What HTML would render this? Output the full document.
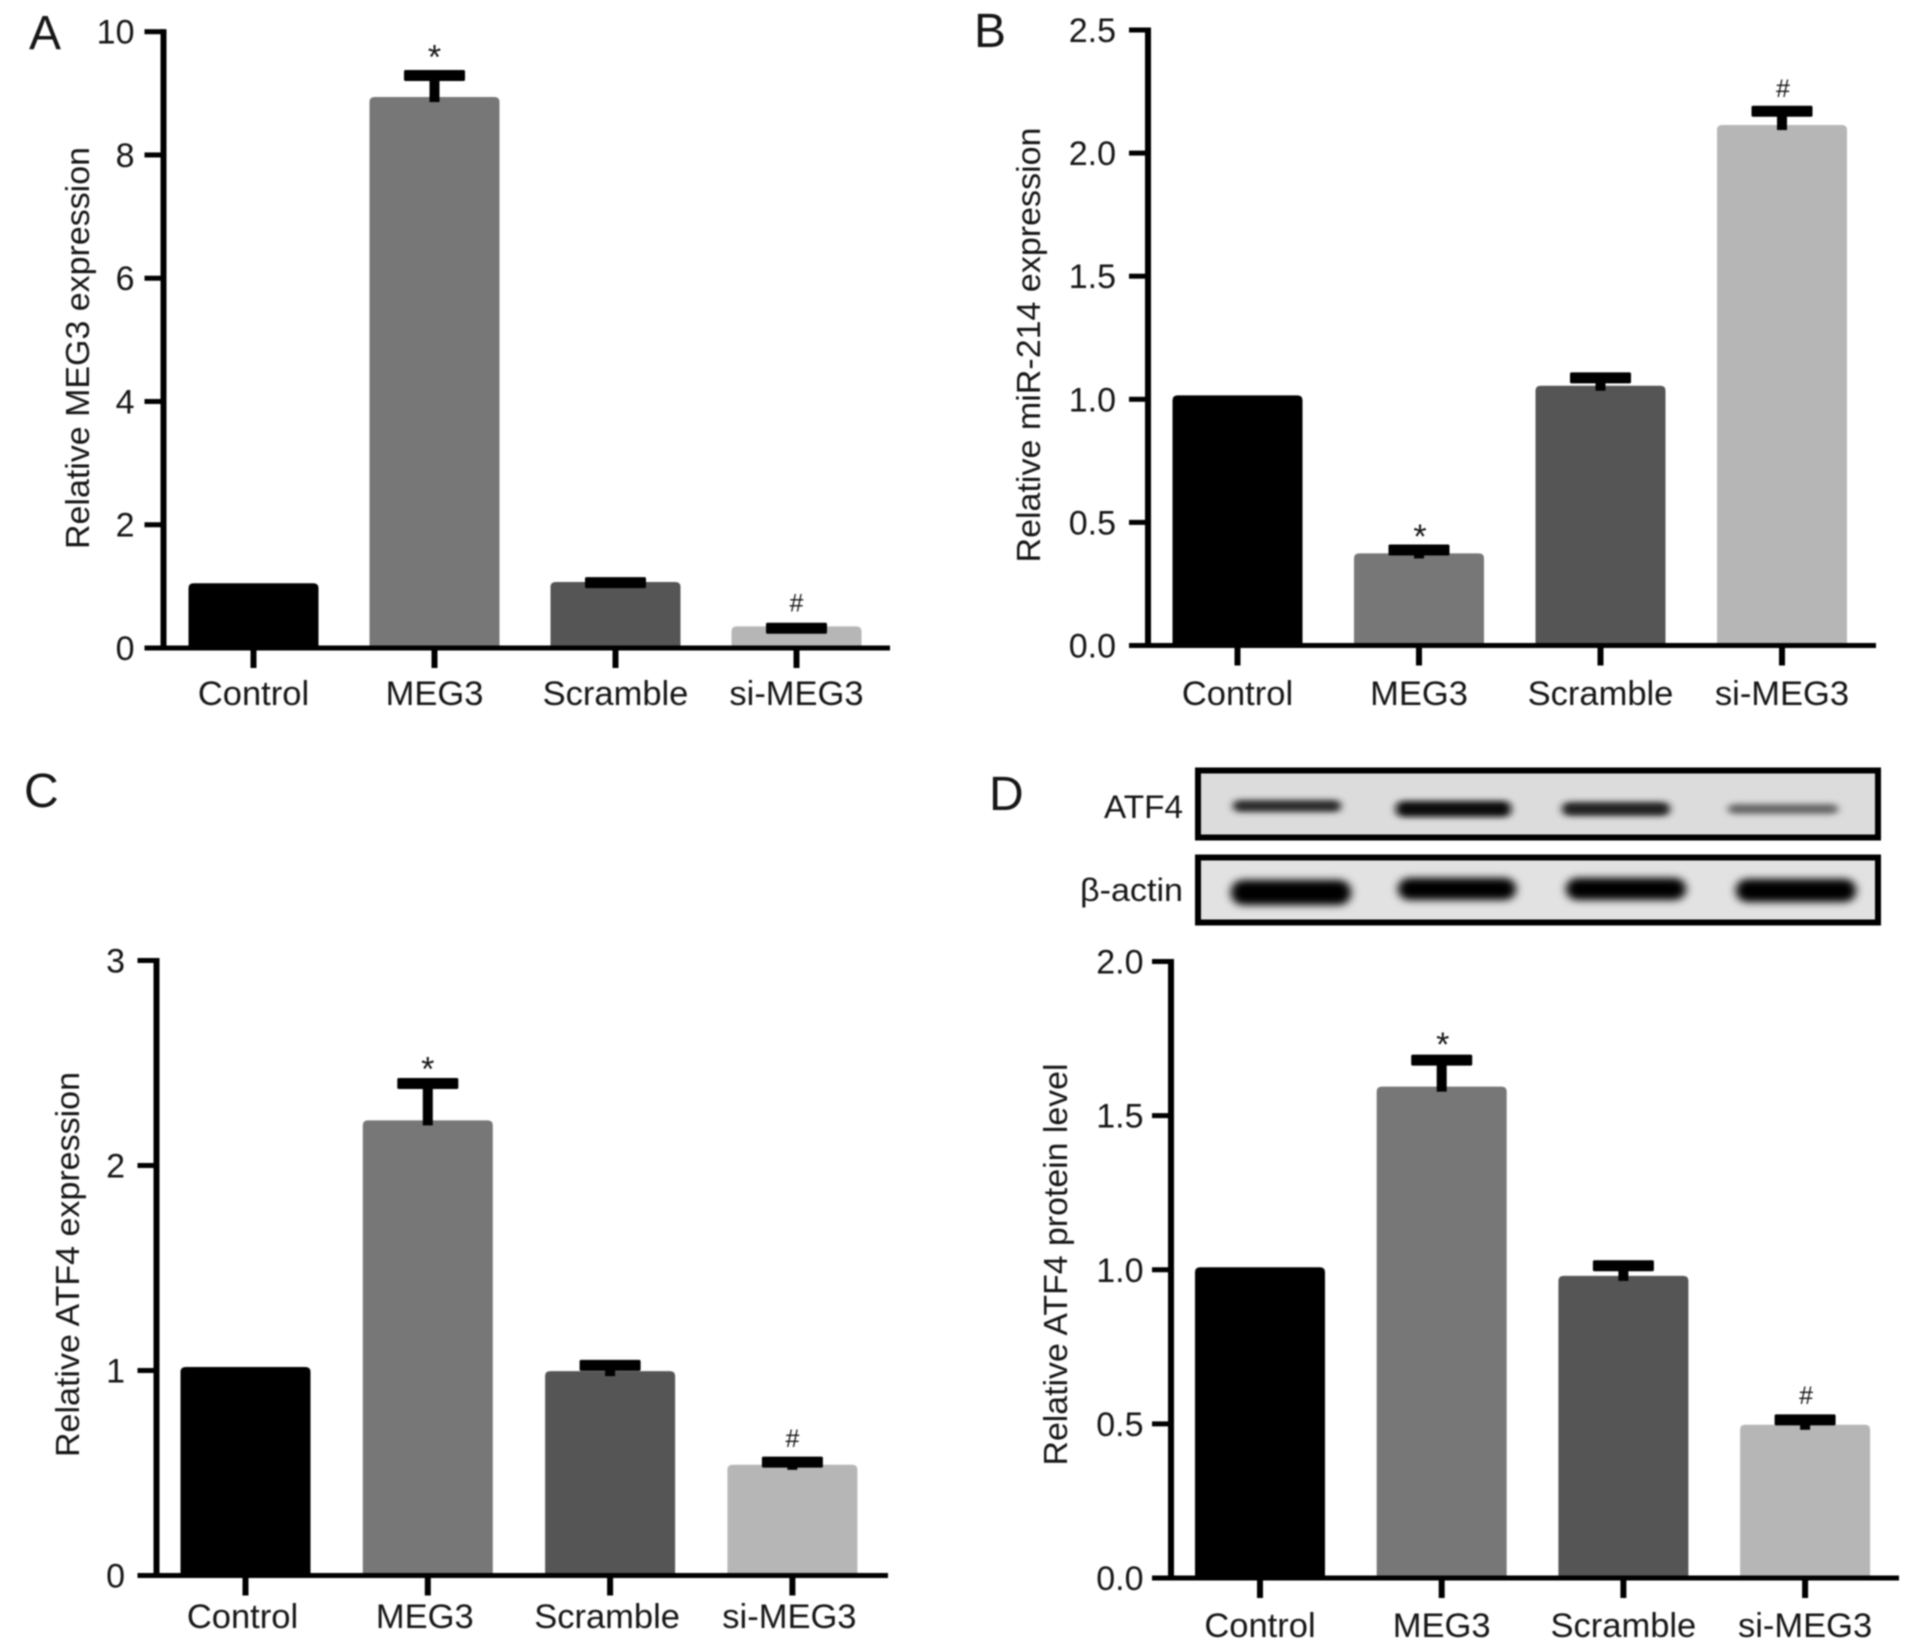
<!DOCTYPE html>
<html lang="en">
<head>
<meta charset="utf-8">
<title>MEG3, miR-214 and ATF4 expression</title>
<style>
html,body{margin:0;padding:0;background:#fff;}
#figure{display:block;width:1913px;height:1650px;filter:blur(0.8px);}
text{font-family:"Liberation Sans",Arial,sans-serif;fill:#161616;}
</style>
</head>
<body>
<svg id="figure" xmlns="http://www.w3.org/2000/svg" width="1913" height="1650" viewBox="0 0 1913 1650">
  <defs>
    <filter id="bandBlur" x="-20%" y="-150%" width="140%" height="400%"><feGaussianBlur stdDeviation="4.5 4"/></filter>
    <filter id="softBlur" x="-20%" y="-200%" width="140%" height="500%"><feGaussianBlur stdDeviation="4 3"/></filter>
  </defs>
  <rect width="1913" height="1650" fill="#fff"/>

  <text x="29" y="49" font-size="48">A</text>
  <text x="974" y="47" font-size="48">B</text>
  <text x="24" y="807" font-size="48">C</text>
  <text x="989" y="810" font-size="48">D</text>

  <g>
    <text x="1183" y="818" font-size="32" text-anchor="end" textLength="79" lengthAdjust="spacingAndGlyphs">ATF4</text>
    <text x="1183" y="901" font-size="32" text-anchor="end" textLength="103" lengthAdjust="spacingAndGlyphs">β-actin</text>

    <g>
      <rect x="1198" y="770.5" width="680" height="67" fill="#dcdcdc" stroke="#000" stroke-width="6"/>
      <rect x="1233" y="800" width="108" height="12" rx="6" fill="#2c2c2c" filter="url(#softBlur)"/>
      <rect x="1396" y="801" width="115" height="16" rx="7" fill="#0c0c0c" filter="url(#softBlur)"/>
      <rect x="1562" y="802" width="108" height="14" rx="7" fill="#222" filter="url(#softBlur)"/>
      <rect x="1728" y="804" width="110" height="10" rx="5" fill="#666" filter="url(#softBlur)"/>
    </g>
    <g>
      <rect x="1198" y="857.5" width="680" height="65" fill="#e2e2e2" stroke="#000" stroke-width="6"/>
      <rect x="1231" y="880" width="120" height="25" rx="12" fill="#000" filter="url(#bandBlur)"/>
      <rect x="1398" y="878" width="118" height="22" rx="11" fill="#000" filter="url(#bandBlur)"/>
      <rect x="1566" y="878" width="120" height="22" rx="11" fill="#000" filter="url(#bandBlur)"/>
      <rect x="1736" y="879" width="120" height="23" rx="11" fill="#000" filter="url(#bandBlur)"/>
    </g>
  </g>

  <g id="panel-a"></g>
  <g id="panel-b"></g>
  <g id="panel-c"></g>
  <g id="panel-d"></g>
</svg>

<script>
// ---------- shared categories ----------
const categories = ["Control", "MEG3", "Scramble", "si-MEG3"];
const barColors = ["#000000", "#777777", "#555555", "#b6b6b6"];
const marks = ["", "*", "", "#"];

// ---------- panel A ----------
const ticksA = ["0", "2", "4", "6", "8", "10"];
const meansA = [1.05, 8.94, 1.07, 0.35];
const uppersA = [null, 9.29, 1.06, 0.32];

// ---------- panel B ----------
const ticksB = ["0.0", "0.5", "1.0", "1.5", "2.0", "2.5"];
const meansB = [1.016, 0.374, 1.055, 2.114];
const uppersB = [null, 0.388, 1.087, 2.17];

// ---------- panel C ----------
const ticksC = ["0", "1", "2", "3"];
const meansC = [1.017, 2.22, 0.997, 0.54];
const uppersC = [null, 2.40, 1.025, 0.553];

// ---------- panel D ----------
const ticksD = ["0.0", "0.5", "1.0", "1.5", "2.0"];
const meansD = [1.008, 1.594, 0.98, 0.497];
const uppersD = [null, 1.68, 1.013, 0.513];

const SVGNS = "http://www.w3.org/2000/svg";

function shape(parent, tag, attrs, content) {
  const el = document.createElementNS(SVGNS, tag);
  for (const key in attrs) el.setAttribute(key, attrs[key]);
  if (content !== undefined) el.textContent = content;
  parent.appendChild(el);
  return el;
}

function drawPanel(cfg) {
  const root = document.getElementById(cfg.id);
  const tickMax = Number(cfg.ticks[cfg.ticks.length - 1]);
  const yScale = v => cfg.y0 - (v / tickMax) * (cfg.y0 - cfg.yTop);
  const xScale = i => cfg.xStart + cfg.step * i;

  // bars
  cfg.means.forEach((mean, i) => {
    const bar = shape(root, "path", {
      d: `M${xScale(i) - 65},${cfg.y0} V${yScale(mean) + 5} Q${xScale(i) - 65},${yScale(mean)} ${xScale(i) - 60},${yScale(mean)} H${xScale(i) + 60} Q${xScale(i) + 65},${yScale(mean)} ${xScale(i) + 65},${yScale(mean) + 5} V${cfg.y0} Z`,
      fill: barColors[i]
    });
    
    
  });

  // error bars
  cfg.uppers.forEach((upper, i) => {
    if (upper === null) return;
    const stem = shape(root, "rect", {
      x: xScale(i) - 5,
      y: yScale(upper),
      width: 10,
      height: Math.max(yScale(cfg.means[i]) + 5 - yScale(upper), 4),
      fill: "#000"
    });
    
    
    const cap = shape(root, "rect", {
      x: xScale(i) - 30.5,
      y: yScale(upper) - 5.5,
      width: 61,
      height: 11,
      rx: 1.5,
      fill: "#000"
    });
    
    
    const glyph = marks[i];
    if (glyph) {
      const sig = shape(root, "text", {
        x: xScale(i) + cfg.markDx,
        y: yScale(upper) + (glyph === "*" ? cfg.starDy : cfg.hashDy),
        "font-size": glyph === "*" ? 34 : 25,
        "text-anchor": "middle"
      }, glyph);
      
      
    }
  });

  // y axis
  const yAxis = shape(root, "rect", {
    x: cfg.x0 - 3,
    y: yScale(tickMax) - 2.5,
    width: 6,
    height: cfg.y0 - yScale(tickMax) + 5,
    fill: "#000"
  });
  
  

  // x axis
  const xAxis = shape(root, "rect", {
    x: cfg.x0 - 19,
    y: cfg.y0 - 2.5,
    width: cfg.xEnd - cfg.x0 + 19,
    height: 5,
    fill: "#000"
  });
  
  

  // y ticks
  cfg.ticks.forEach(label => {
    const y = yScale(Number(label));
    const tick = shape(root, "rect", { x: cfg.x0 - 19, y: y - 2.5, width: 19, height: 5, fill: "#000" });
    
    
    const text = shape(root, "text", {
      x: cfg.labelRight,
      y: y + 12,
      "font-size": 34,
      "text-anchor": "end"
    }, label);
    
    
  });

  // x ticks and labels
  categories.forEach((name, i) => {
    const tick = shape(root, "rect", { x: xScale(i) - 3, y: cfg.y0, width: 6, height: 20, fill: "#000" });
    
    
    const text = shape(root, "text", {
      x: xScale(i) + cfg.labelDx,
      y: cfg.xLabelY,
      "font-size": 34.5,
      "text-anchor": "middle"
    }, name);
    
    
  });

  // y axis title
  const title = shape(root, "text", {
    transform: `translate(${cfg.titleX},${cfg.titleY}) rotate(-90)`,
    "font-size": 33.5,
    "text-anchor": "middle",
    textLength: cfg.titleLen,
    lengthAdjust: "spacingAndGlyphs"
  }, cfg.title);
  
  
}

drawPanel({ id: "panel-a", ticks: ticksA, means: meansA, uppers: uppersA, x0: 163.5, xEnd: 890, y0: 648, yTop: 31.7, xStart: 253.5, step: 181, labelRight: 134.5, labelDx: 0, xLabelY: 705, markDx: 0, starDy: -7, hashDy: -17, titleX: 89, titleY: 348, titleLen: 402, title: "Relative MEG3 expression" });
drawPanel({ id: "panel-b", ticks: ticksB, means: meansB, uppers: uppersB, x0: 1148, xEnd: 1876, y0: 645.5, yTop: 30, xStart: 1237.5, step: 181.5, labelRight: 1116, labelDx: 0, xLabelY: 705, markDx: 1, starDy: -2, hashDy: -14, titleX: 1040, titleY: 345, titleLen: 435, title: "Relative miR-214 expression" });
drawPanel({ id: "panel-c", ticks: ticksC, means: meansC, uppers: uppersC, x0: 156.5, xEnd: 888, y0: 1575.5, yTop: 960.5, xStart: 245.5, step: 182.3, labelRight: 125, labelDx: -3, xLabelY: 1628, markDx: 0, starDy: -3, hashDy: -15, titleX: 79, titleY: 1264.5, titleLen: 385, title: "Relative ATF4 expression" });
drawPanel({ id: "panel-d", ticks: ticksD, means: meansD, uppers: uppersD, x0: 1171, xEnd: 1899, y0: 1578, yTop: 961.5, xStart: 1260, step: 181.7, labelRight: 1143.5, labelDx: 0, xLabelY: 1637, markDx: 1, starDy: -4, hashDy: -16, titleX: 1067, titleY: 1264.5, titleLen: 402, title: "Relative ATF4 protein level" });
</script>
</body>
</html>
